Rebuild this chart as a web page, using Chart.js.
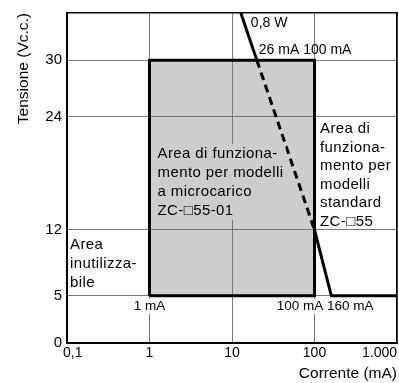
<!DOCTYPE html>
<html>
<head>
<meta charset="utf-8">
<script src="https://cdn.jsdelivr.net/npm/chart.js@4.4.0/dist/chart.umd.min.js"></script>
<style>
  html, body { margin: 0; padding: 0; background: #fff; }
  #wrap { width: 399px; height: 383px; }
</style>
</head>
<body>
<div id="wrap"><canvas id="vChart"></canvas></div>
<script>
let xTickVals = [0.1, 1, 10, 100, 1000];
let xTickNames = ["0,1", "1", "10", "100", "1.000"];
let yTickVals = [0, 5, 12, 24, 30];

// area for micro-load models (mA, V)
let boxCurrent = [1, 1, 100, 100, 1];
let boxVoltage = [5, 30, 30, 5, 5];
// top edge of grey area, filled down to 5 V
let fillCurrent = [1, 100];
let fillVoltage = [30, 30];

// 0,8 W curve, then limit of standard models
let limitCurrent = [12.8, 20, 100, 160, 1000];
let limitVoltage = [35, 30, 12, 5, 5];

let midText = ["Area di funziona-", "mento per modelli", "a microcarico", "ZC-\u25A155-01"];
let rightText = ["Area di", "funziona-", "mento per", "modelli", "standard", "ZC-\u25A155"];
let leftText = ["Area", "inutilizza-", "bile"];

const FONT = '"Liberation Sans", Arial, sans-serif';
const GREY = "#cdcdcd";

function toPoints(xs, ys) {
    return xs.map(function (v, i) { return { x: v, y: ys[i] }; });
}

function drawBlock(ctx, lines, left, top, lineH, bg) {
    let w = 0;
    lines.forEach(function (t) { w = Math.max(w, ctx.measureText(t).width); });
    if (bg) {
        ctx.fillStyle = bg;
        ctx.fillRect(left - 2, top - lineH / 2, w + 4, lineH * lines.length);
    }
    ctx.fillStyle = "#000";
    for (let i = 0; i < lines.length; i++) {
        ctx.fillText(lines[i], left, top + i * lineH);
    }
}

const notesPlugin = {
    id: "notes",
    afterDraw(chart) {
        const ctx = chart.ctx;
        const sx = chart.scales.x, sy = chart.scales.y;
        ctx.save();
        ctx.textBaseline = "middle";
        ctx.textAlign = "left";

        // x tick labels (first and last kept inside the frame)
        ctx.font = "14px " + FONT;
        for (let i = 0; i < xTickVals.length; i++) {
            let px = sx.getPixelForValue(xTickVals[i]);
            if (i == 0) { ctx.textAlign = "left"; px -= 4; }
            else if (i == xTickVals.length - 1) ctx.textAlign = "right";
            else ctx.textAlign = "center";
            ctx.fillStyle = "#000";
            ctx.fillText(xTickNames[i], px, sy.bottom + 10);
        }
        ctx.textAlign = "left";

        // area labels
        ctx.font = "15px " + FONT;
        ctx.letterSpacing = "0.4px";
        drawBlock(ctx, midText, sx.getPixelForValue(1) + 8, sy.getPixelForValue(24) + 37, 18.9, GREY);
        drawBlock(ctx, rightText, sx.getPixelForValue(100) + 5.5, sy.getPixelForValue(24) + 12.5, 18.5, null);
        drawBlock(ctx, leftText, sx.getPixelForValue(0.1) + 3, sy.getPixelForValue(5) - 50.6, 19, null);
        ctx.letterSpacing = "0px";

        // current marks
        ctx.font = "14px " + FONT;
        drawBlock(ctx, ["0,8 W"], sx.getPixelForValue(12.8) + 10, sy.getPixelForValue(35) + 10.6, 16, null);
        drawBlock(ctx, ["26 mA 100 mA"], sx.getPixelForValue(20) + 2, sy.getPixelForValue(30) - 10.5, 16, null);
        ctx.font = "13.5px " + FONT;
        let w1 = ctx.measureText("1 mA").width;
        drawBlock(ctx, ["1 mA"], sx.getPixelForValue(1) - w1 / 2, sy.getPixelForValue(5) + 10.5, 15, "#fff");
        drawBlock(ctx, ["100 mA 160 mA"], sx.getPixelForValue(100) - 37.7, sy.getPixelForValue(5) + 10.5, 15, "#fff");
        ctx.restore();
    }
};

let vChart = new Chart("vChart", {
    type: "line",
    data: {
        datasets: [
            {
                data: toPoints(fillCurrent, fillVoltage),
                fill: { value: 5 },
                backgroundColor: GREY,
                borderWidth: 0,
                pointRadius: 0,
            },
            {
                data: toPoints(boxCurrent, boxVoltage),
                borderColor: "#000",
                borderWidth: 3,
                pointRadius: 0,
                fill: false,
            },
            {
                data: toPoints(limitCurrent, limitVoltage),
                borderColor: "#000",
                borderWidth: 3,
                pointRadius: 0,
                fill: false,
                segment: {
                    borderDash: function (c) { return c.p0DataIndex == 1 ? [8, 5] : undefined; },
                },
            },
        ],
    },
    options: {
        responsive: true,
        maintainAspectRatio: false,
        animation: false,
        layout: { padding: 0 },
        plugins: {
            legend: { display: false },
            tooltip: { enabled: false },
            filler: { drawTime: "beforeDraw" },
        },
        scales: {
            x: {
                type: "logarithmic",
                position: "bottom",
                min: 0.1,
                max: 1000,
                afterBuildTicks: function (s) { s.ticks = xTickVals.map(function (v) { return { value: v }; }); },
                afterFit: function (s) { s.height = 40; s.paddingLeft = 0; s.paddingRight = 0; },
                ticks: { display: false },
                grid: { color: "#777", lineWidth: 1, drawTicks: false },
                border: { color: "#000", width: 2 },
                title: {
                    display: true,
                    text: "Corrente (mA)",
                    align: "end",
                    color: "#000",
                    font: { family: FONT, size: 15.5 },
                    padding: 0,
                },
            },
            y: {
                type: "linear",
                position: "left",
                min: 0,
                max: 35,
                afterBuildTicks: function (s) { s.ticks = yTickVals.map(function (v) { return { value: v }; }); },
                afterFit: function (s) { s.width = 67; s.paddingTop = 0; s.paddingBottom = 0; },
                ticks: { color: "#000", padding: 5, font: { family: FONT, size: 15 } },
                grid: { color: "#777", lineWidth: 1, drawTicks: false },
                border: { color: "#000", width: 2 },
                title: {
                    display: true,
                    text: "Tensione (Vc.c.)",
                    align: "end",
                    color: "#000",
                    font: { family: FONT, size: 15.5 },
                    padding: { top: 14.5, bottom: 0 },
                },
            },
            xTop: {
                type: "linear",
                position: "top",
                ticks: { display: false },
                grid: { display: false, drawTicks: false },
                border: { color: "#000", width: 1.5 },
                afterFit: function (s) { s.height = 13; },
            },
            yRight: {
                type: "linear",
                position: "right",
                ticks: { display: false },
                grid: { display: false, drawTicks: false },
                border: { color: "#000", width: 1.5 },
                afterFit: function (s) { s.width = 2; },
            },
        },
    },
    plugins: [notesPlugin],
});
</script>
</body>
</html>
